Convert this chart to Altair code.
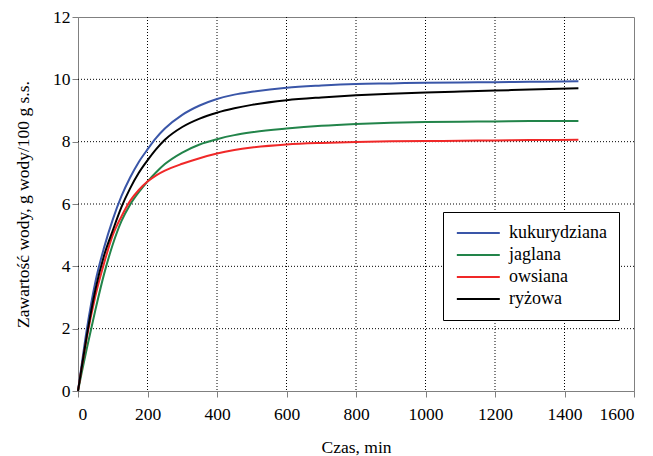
import altair as alt
import pandas as pd

# ---- data ----
czas = [0, 10, 25, 50, 75, 100, 125, 150, 175, 200, 225, 250, 300, 350, 400,
        450, 500, 600, 700, 800, 900, 1000, 1100, 1200, 1300, 1440]

kukurydziana = [0, 0.80, 1.95, 3.50, 4.60, 5.50, 6.25, 6.85, 7.35, 7.75, 8.12, 8.42, 8.86, 9.16, 9.37,
                9.51, 9.60, 9.73, 9.80, 9.85, 9.87, 9.89, 9.90, 9.91, 9.92, 9.94]
jaglana = [0, 0.55, 1.35, 2.60, 3.75, 4.70, 5.45, 5.98, 6.38, 6.72, 7.02, 7.28, 7.65, 7.91, 8.08,
           8.21, 8.30, 8.42, 8.51, 8.57, 8.61, 8.63, 8.64, 8.65, 8.66, 8.66]
owsiana = [0, 0.70, 1.70, 3.05, 4.10, 5.00, 5.60, 6.10, 6.45, 6.72, 6.92, 7.07, 7.29, 7.47, 7.62,
           7.73, 7.81, 7.91, 7.96, 7.99, 8.01, 8.02, 8.03, 8.04, 8.05, 8.06]
ryzowa = [0, 0.72, 1.75, 3.25, 4.35, 5.15, 5.90, 6.50, 7.00, 7.40, 7.76, 8.06, 8.47, 8.74, 8.93,
          9.07, 9.18, 9.33, 9.42, 9.49, 9.54, 9.58, 9.61, 9.64, 9.67, 9.71]

series_names = ["kukurydziana", "jaglana", "owsiana", "ryżowa"]
series_colors = ["#3a56a8", "#22844a", "#f02828", "#000000"]

x_ticks = [0, 200, 400, 600, 800, 1000, 1200, 1400, 1600]
y_ticks = [0, 2, 4, 6, 8, 10, 12]
x_grid = [200, 400, 600, 800, 1000, 1200, 1400]
y_grid = [2, 4, 6, 8, 10]

rows = []
for name, vals in zip(series_names, [kukurydziana, jaglana, owsiana, ryzowa]):
    for t, v in zip(czas, vals):
        rows.append({"czas": t, "woda": v, "kasza": name, "order": series_names.index(name)})
df = pd.DataFrame(rows)

FONT = "Liberation Serif"
FS = 17.5

xscale = alt.Scale(domain=[0, 1600], nice=False, zero=False)
yscale = alt.Scale(domain=[0, 12], nice=False)

common_axis = dict(labelFont=FONT, labelFontSize=FS, labelColor="black",
                   titleFont=FONT, titleFontSize=FS, titleFontWeight="normal",
                   titleColor="black", domainColor="#808080", tickColor="#808080",
                   domainWidth=1, tickWidth=1, grid=False, tickSize=6, format="d")

xaxis = alt.Axis(values=x_ticks, title="Czas, min", labelPadding=8,
                 titleY=61, titleBaseline="alphabetic", **common_axis)
yaxis = alt.Axis(values=y_ticks, title="Zawartość wody, g wody/100 g s.s.",
                 labelPadding=2, titleX=-50, titleY=187, titleAngle=270,
                 titleBaseline="alphabetic", titleAlign="center", **common_axis)

xgrid = alt.Chart(pd.DataFrame({"g": x_grid})).mark_rule(
    color="black", strokeDash=[1, 2], strokeWidth=1
).encode(x=alt.X("g:Q", scale=xscale, axis=xaxis))

ygrid = alt.Chart(pd.DataFrame({"g": y_grid})).mark_rule(
    color="black", strokeDash=[1, 2], strokeWidth=1
).encode(y=alt.Y("g:Q", scale=yscale, axis=yaxis))

lines = alt.Chart(df).mark_line(strokeWidth=2, interpolate="monotone").encode(
    x=alt.X("czas:Q", scale=xscale, axis=xaxis),
    y=alt.Y("woda:Q", scale=yscale, axis=yaxis),
    color=alt.Color("kasza:N",
                    scale=alt.Scale(domain=series_names, range=series_colors),
                    legend=alt.Legend(title=None, orient="none", legendX=365, legendY=195,
                                      symbolType="M-1,0H5", symbolSize=205,
                                      symbolStrokeWidth=2, labelOffset=36,
                                      padding=12, rowPadding=4,
                                      strokeColor="black", fillColor="white",
                                      labelFont=FONT, labelFontSize=18,
                                      labelColor="black")),
    order=alt.Order("order:Q"),
    detail="kasza:N",
)

chart = alt.layer(xgrid, ygrid, lines).properties(
    width=556, height=374,
    autosize=alt.AutoSizeParams(type="none"),
    padding={"left": 70, "top": 9, "right": 11, "bottom": 69},
).configure(font=FONT).configure_view(
    stroke="#808080", strokeWidth=1
).configure_axis(
    labelFont=FONT, labelFontSize=FS, labelColor="black",
    titleFont=FONT, titleFontSize=FS, titleFontWeight="normal", titleColor="black",
    domainColor="#808080", tickColor="#808080", domainWidth=1, tickWidth=1,
)

chart.save("out.html", embed_options={"renderer": "svg", "actions": False})
